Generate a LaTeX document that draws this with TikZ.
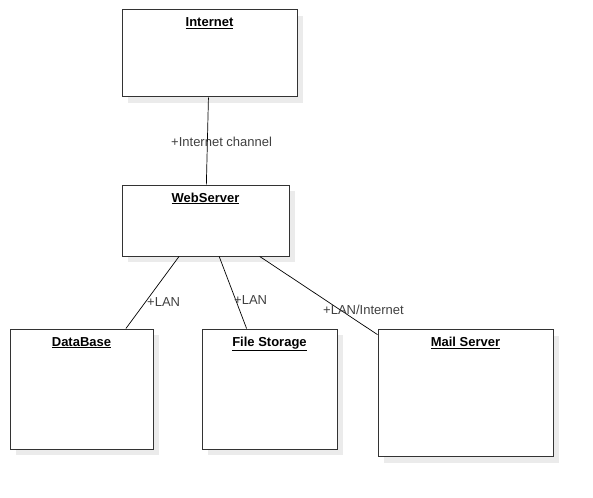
\documentclass[tikz,border=0pt]{standalone}
\usepackage{fontspec}
\setmainfont{Liberation Sans}
\usetikzlibrary{positioning, shadows}

\tikzset{
  box/.style={rectangle, draw=black!80, line width=1pt, fill=white, inner sep=0pt,
    drop shadow={shadow xshift=6pt, shadow yshift=-6pt, fill=black!8, opacity=1}},
  title/.style={inner sep=0pt, anchor=base, font=\fontsize{13}{15}\selectfont\bfseries},
  link/.style={draw=black, line width=0.7pt},
  tag/.style={inner sep=0pt, anchor=west, text=black!75, font=\fontsize{13}{15}\selectfont}
}

\begin{document}
\begin{tikzpicture}[x=1pt, y=-1pt]
\useasboundingbox (0,0) rectangle (593,497);
%%%  nodes

% boxes
\node [box, minimum width=175pt, minimum height=87pt] (inet) at (209.5, 53.5) {};
\node [box, minimum width=167pt, minimum height=71pt] (web) at (205.5, 220.5) {};
\node [box, minimum width=143pt, minimum height=120pt] (db) at (81.5, 389) {};
\node [box, minimum width=135pt, minimum height=120pt] (fs) at (269.5, 389) {};
\node [box, minimum width=175pt, minimum height=127pt] (mail) at (465.5, 393) {};

% titles
\node [title] (tinet) at ([yshift=-17.5pt]inet.north) {\underline{Internet}};
\node [title] (tweb) at ([yshift=-17.5pt]web.north) {\underline{WebServer}};
\node [title] (tdb) at ([yshift=-17.5pt]db.north) {\underline{DataBase}};
\node [title] (tfs) at ([yshift=-17.5pt]fs.north) {\underline{File Storage}};
\node [title] (tmail) at ([yshift=-17.5pt]mail.north) {\underline{Mail Server}};

%%% edges

\draw [link] (inet) to (web);
\draw [link] (web) to (db);
\draw [link] (web) to (fs);
\draw [link] (web) to (mail);

% link labels
\node [tag] (lchan) at (171, 142) {+Internet channel};
\node [tag] (llan1) at (147, 302) {+LAN};
\node [tag] (llan2) at (234, 300) {+LAN};
\node [tag] (lmix) at (323, 309.5) {+LAN/Internet};
\end{tikzpicture}
\end{document}
